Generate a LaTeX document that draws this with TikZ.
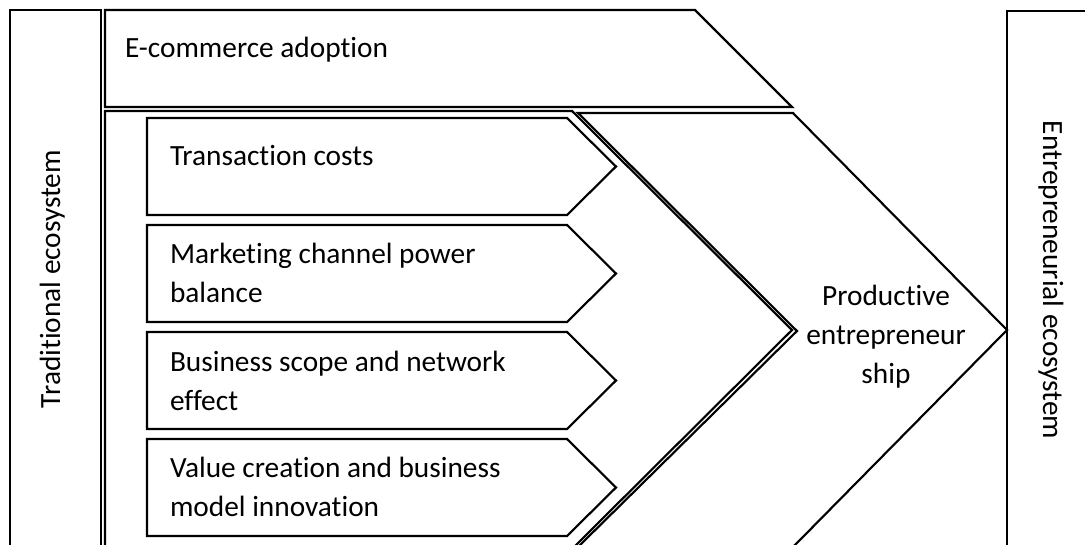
\documentclass[tikz,border=0pt]{standalone}
\usepackage{fontspec}
\setmainfont{Carlito}[Ligatures={NoCommon,NoContextual}]
\newcommand{\diagfont}{\fontsize{22}{29.25}\selectfont}
\begin{document}
\begin{tikzpicture}[x=0.75pt,y=-0.75pt,
  shp/.style={draw=black, line width=1.6pt, line join=miter, fill=white},
  lbl/.style={font=\diagfont, inner sep=0pt, outer sep=0pt, anchor=base west, align=left},
  clbl/.style={font=\diagfont, inner sep=0pt, outer sep=0pt, anchor=base, align=center}]
\clip (0,0) rectangle (1085,544);
\fill[white] (0,0) rectangle (1085,544);
% left column
\draw[shp] (10,10) rectangle (101,580);
% right column
\draw[shp] (1007,11) rectangle (1120,580);
% E-commerce shape
\draw[shp] (105,10) -- (695,10) -- (792,107) -- (105,107) -- cycle;
% middle pentagon
\draw[shp] (105,111) -- (572,111) -- (792,330) -- (572,549) -- (105,549) -- cycle;
% big chevron
\draw[shp] (578,113) -- (793,113) -- (1007,330) -- (793,547) -- (578,547) -- (797,331) -- cycle;
% four sub pentagons
\foreach \t in {118,225,332,439}{
  \draw[shp] (147,\t) -- (567,\t) -- (616,\t+48.5) -- (567,\t+97) -- (147,\t+97) -- cycle;
}
% texts (anchor at the baseline of the last line)
\node[lbl] (ecom) at (125,57) {E-commerce adoption};
\node[lbl] (trans) at (170,165) {Transaction costs};
\node[lbl] (mark) at (170,302) {Marketing channel power\\balance};
\node[lbl] (busi) at (170,410) {Business scope and network\\effect};
\node[lbl] (valu) at (170,516) {Value creation and business\\model innovation};
\node[clbl] (prod) at (886,383) {Productive\\entrepreneur\\ship};
\node[font=\diagfont, inner sep=0pt, anchor=base, rotate=90] (trad) at (60,279) {Traditional ecosystem};
\node[font=\diagfont, inner sep=0pt, anchor=base, rotate=-90] (entr) at (1043,280) {Entrepreneurial ecosystem};
\end{tikzpicture}
\end{document}
